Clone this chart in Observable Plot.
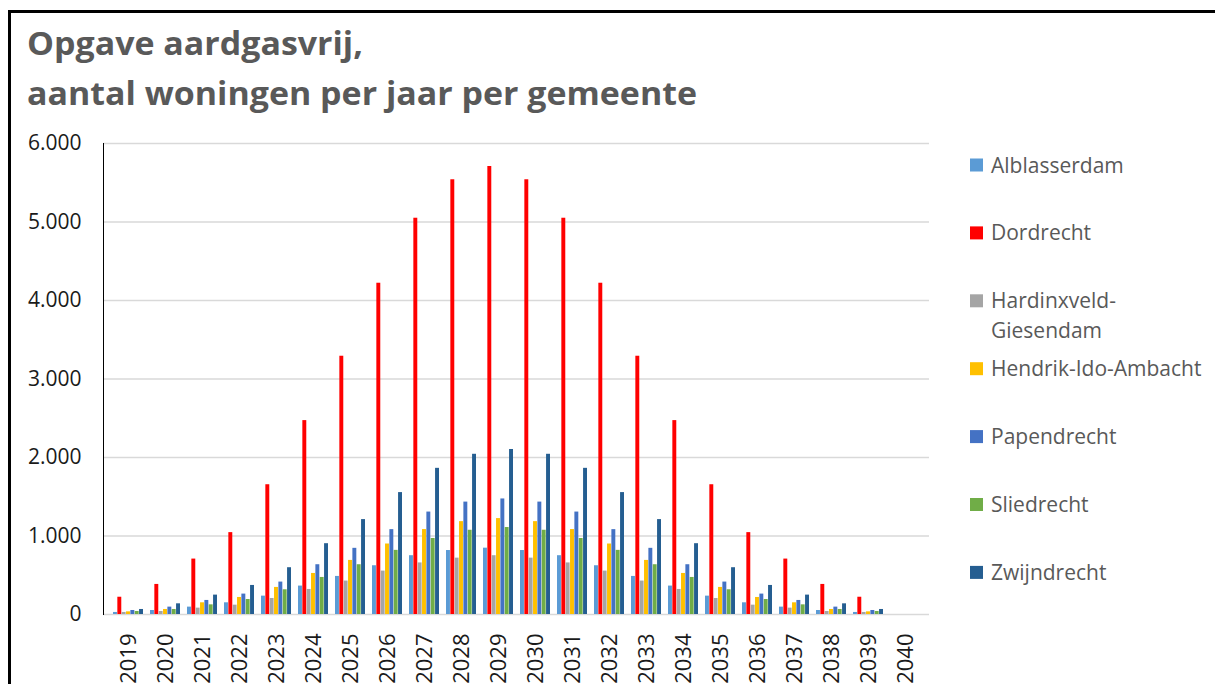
<!DOCTYPE html>
<html>
<head>
<meta charset="utf-8">
<script src="https://cdn.jsdelivr.net/npm/d3@7"></script>
<script src="https://cdn.jsdelivr.net/npm/@observablehq/plot@0.6"></script>
<style>
  body { margin: 0; background: #fff; }
  #wrap { position: relative; width: 1215px; height: 684px; overflow: hidden; background: #fff; }
  #wrap > svg { position: absolute; left: 0; top: 0; }
  #border { position: absolute; left: 8px; top: 10px; width: 1300px; height: 800px;
            border-top: 3px solid #000; border-left: 3px solid #000; pointer-events: none; }
</style>
</head>
<body>
<div id="wrap"></div>
<script>
// ---------- data ----------
const years = ["2019","2020","2021","2022","2023","2024","2025","2026","2027","2028","2029",
               "2030","2031","2032","2033","2034","2035","2036","2037","2038","2039","2040"];

const alblasserdam = [26, 51, 94, 149, 234, 362, 485, 621, 749, 815, 845, 815, 749, 621, 485, 362, 234, 149, 94, 51, 26, 0];
const dordrecht    = [220, 383, 706, 1043, 1653, 2470, 3290, 4220, 5048, 5538, 5707, 5538, 5048, 4220, 3290, 2470, 1653, 1043, 706, 383, 220, 0];
const hardinxveld  = [26, 38, 81, 119, 204, 319, 426, 553, 657, 718, 749, 718, 657, 553, 426, 319, 204, 119, 81, 38, 26, 0];
const hendrikIdo   = [34, 64, 149, 217, 345, 523, 689, 898, 1082, 1183, 1222, 1183, 1082, 898, 689, 523, 345, 217, 149, 64, 34, 0];
const papendrecht  = [51, 94, 179, 260, 413, 634, 843, 1081, 1305, 1432, 1472, 1432, 1305, 1081, 843, 634, 413, 260, 179, 94, 51, 0];
const sliedrecht   = [38, 64, 123, 191, 315, 472, 634, 817, 968, 1073, 1108, 1073, 968, 817, 634, 472, 315, 191, 123, 64, 38, 0];
const zwijndrecht  = [64, 136, 247, 370, 596, 902, 1209, 1553, 1862, 2041, 2102, 2041, 1862, 1553, 1209, 902, 596, 370, 247, 136, 64, 0];

const seriesNames  = ["Alblasserdam", "Dordrecht", "Hardinxveld-Giesendam", "Hendrik-Ido-Ambacht", "Papendrecht", "Sliedrecht", "Zwijndrecht"];
const seriesValues = [alblasserdam, dordrecht, hardinxveld, hendrikIdo, papendrecht, sliedrecht, zwijndrecht];
const seriesColors = ["#5B9BD5", "#FF0000", "#A5A5A5", "#FFC000", "#4472C4", "#70AD47", "#255E91"];

const yTicks = [0, 1000, 2000, 3000, 4000, 5000, 6000];
const titleLines = ["Opgave aardgasvrij,", "aantal woningen per jaar per gemeente"];

// ---------- build ----------
const rows = [];
seriesNames.forEach((name, i) => years.forEach((y, j) => rows.push({series: name, year: y, value: seriesValues[i][j]})));

const nl = d3.formatLocale({decimal: ",", thousands: ".", grouping: [3], currency: ["€ ", ""]});
const fmt = nl.format(",");

const W = 1215, H = 684, mL = 103, mR = 286, mT = 143, mB = 70;
const padIn = 0.19, padOut = 0.095;
const step = (W - mL - mR) / (years.length - padIn + 2 * padOut);
const bw = step * (1 - padIn) / seriesNames.length;
const font = "'Open Sans', 'DejaVu Sans', sans-serif";

const chart = Plot.plot({
  width: W, height: H,
  marginLeft: mL, marginRight: mR, marginTop: mT, marginBottom: mB,
  style: {fontFamily: font, fontSize: "21px", color: "#1a1a1a", background: "transparent"},
  x: {type: "band", domain: years, paddingInner: padIn, paddingOuter: padOut, align: 0.5, axis: null},
  y: {domain: [0, 6000], axis: null},
  marks: [
    Plot.ruleY(yTicks.filter(d => d > 0), {stroke: "#d9d9d9", strokeWidth: 1.3}),
    Plot.ruleY([0], {stroke: "#d9d9d9", strokeWidth: 1.6}),
    ...seriesNames.map((name, i) => Plot.barY(rows.filter(r => r.series === name), {
      x: "year", y: "value", fill: seriesColors[i],
      insetLeft: i * bw, insetRight: (seriesNames.length - 1 - i) * bw
    })),
    Plot.axisY({ticks: yTicks, tickFormat: fmt, tickSize: 0, tickPadding: 22, fontSize: 21, label: null, fill: "#1a1a1a"}),
    Plot.axisX({tickRotate: -90, tickSize: 0, tickPadding: 19, fontSize: 22, label: null, fill: "#1a1a1a"}),
    Plot.frame({anchor: "left", stroke: "#000", strokeWidth: 1})
  ]
});

const wrap = document.getElementById("wrap");
wrap.appendChild(chart);

// overlay: title + legend
const ov = d3.select(wrap).append("svg")
  .attr("width", W).attr("height", H)
  .style("pointer-events", "none");

const title = ov.append("g").attr("fill", "#595959")
  .attr("font-family", font).attr("font-weight", 700).attr("font-size", 32);
const t2 = title.append("text").attr("x", 27).attr("y", 105).text(titleLines[1]);
const t1 = title.append("text").attr("x", 27).attr("y", 55).text(titleLines[0]);
const k = 670 / t2.node().getComputedTextLength();
t2.attr("textLength", 670).attr("lengthAdjust", "spacingAndGlyphs");
t1.attr("textLength", t1.node().getComputedTextLength() * k).attr("lengthAdjust", "spacingAndGlyphs");

const legend = ov.append("g").attr("font-family", font).attr("font-size", 21).attr("fill", "#595959");
seriesNames.forEach((name, i) => {
  const cy = 165 + i * 67.9;
  legend.append("rect").attr("x", 970).attr("y", cy - 6.5).attr("width", 13).attr("height", 13)
    .attr("fill", seriesColors[i]);
  const lines = name.length > 20 ? [name.slice(0, name.indexOf("-") + 1), name.slice(name.indexOf("-") + 1)] : [name];
  const txt = legend.append("text").attr("x", 991).attr("y", cy + 7.5);
  lines.forEach((l, j) => txt.append("tspan").attr("x", 991).attr("dy", j === 0 ? 0 : 30).text(l));
});

const border = document.createElement("div");
border.id = "border";
wrap.appendChild(border);
</script>
</body>
</html>
